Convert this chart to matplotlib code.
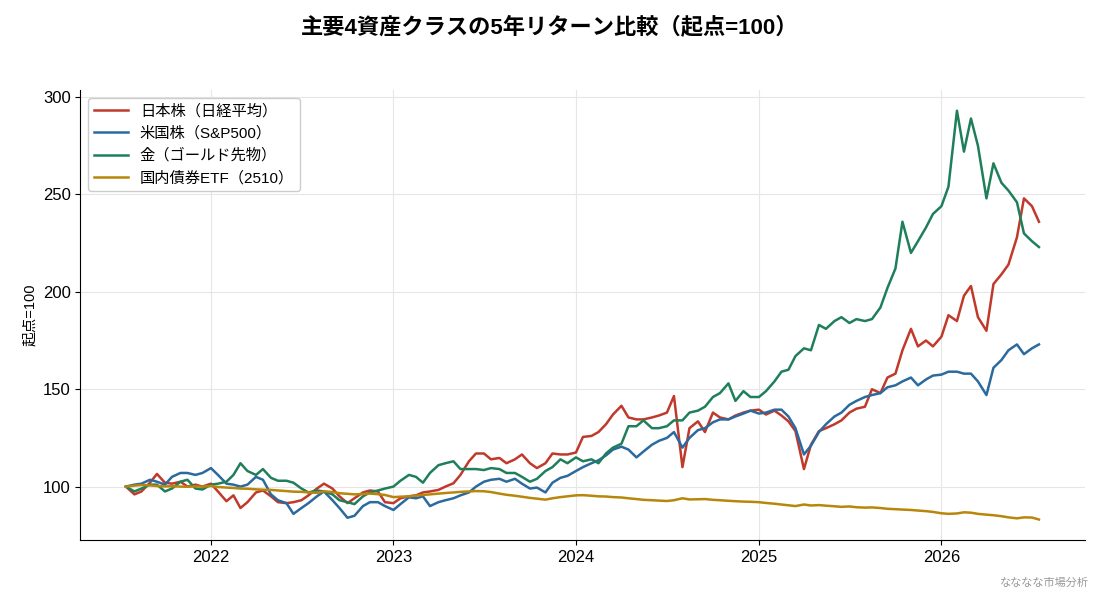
import pandas as pd
import matplotlib
matplotlib.use("Agg")
import matplotlib.pyplot as plt
import matplotlib.dates as mdates

plt.rcParams['font.family'] = ['Liberation Sans', 'Noto Sans CJK JP', 'DejaVu Sans']

# 半月ごとの読み取り値（2021-07-15 〜 2026-07-15）
dates = pd.date_range("2021-07-15", periods=121, freq="SMS")

nikkei = [100, 96, 97.5, 102, 106.5, 102, 101.5, 102.5, 100, 101, 100,
          101.5, 97.5, 92.5, 95.5, 89, 92, 97, 98, 95, 92,
          91.5, 92, 93, 95.5, 99, 101.5, 99, 95, 91.5, 94,
          97, 98, 97.5, 92, 91.5, 94, 95, 95.5, 97, 97.5,
          98.3, 100, 101.7, 106, 113, 117, 117, 114, 114.7, 112,
          114, 116.5, 112, 109.5, 112, 117, 116.5, 116.5, 117.5, 125.5,
          126, 128, 132, 137, 141.5, 135.5, 134.5, 134.5, 135.5, 136.5,
          138, 146.5, 110, 130, 133.5, 128, 138, 135.5, 134.5, 136.5,
          138, 139, 139.5, 137, 139, 136.5, 133.5, 128.5, 109, 121.5,
          128.5, 130, 132, 134, 138, 140, 141, 150, 148, 156,
          158, 170, 181, 172, 175, 172, 177, 188, 185, 198,
          203, 187, 180, 204, 209, 214, 228, 248, 244, 236]

sp500 = [100, 101, 101.5, 103.5, 102.5, 101, 105, 107, 107, 106, 107,
         109.5, 106, 101.5, 101, 100, 101, 105, 103.5, 96, 93,
         91.5, 86, 89, 91.5, 95, 97.5, 93, 89, 84, 85,
         90, 92, 92, 90, 88, 91, 94.5, 94, 95, 90,
         92, 93, 94, 95.5, 97, 100, 102.5, 103.5, 104, 102.5,
         104, 101.5, 99, 99.5, 97, 102, 104.5, 105.5, 108, 110,
         112, 113.5, 116, 119, 120.5, 119, 115, 118, 121.5, 123.5,
         125, 128, 120, 125, 129, 130, 133, 134.5, 134.5, 136,
         137.5, 139, 137.5, 138, 139.5, 139.5, 136, 130, 116.5, 121,
         128, 132, 136, 138, 142, 144, 146, 147, 148, 151,
         152, 154, 156, 152, 155, 157, 157.5, 159, 159, 158,
         158, 154, 147, 161, 165, 170, 173, 168, 171, 173]

gold = [100, 97.5, 99, 101, 101, 97.5, 99, 102.5, 103.5, 99, 98.5,
        101, 101.5, 102.5, 106, 112, 108, 106, 109, 104.5, 103,
        103, 102, 99, 97, 98, 97.5, 96, 93, 92, 91,
        95, 97, 98, 99, 100, 103, 106, 105, 102, 107,
        111, 112, 113, 109, 109, 109, 108.5, 109.5, 109, 107,
        107, 105, 102.5, 104, 108, 110, 114, 112, 115, 113,
        114, 112, 117, 120, 122, 131, 131, 134, 130, 130,
        131, 134, 134, 138, 139, 141, 146, 148, 153, 144,
        149, 146, 146, 149, 154, 159, 160, 167, 171, 170,
        183, 181, 185, 187, 184, 186, 185, 186, 192, 202,
        212, 236, 220, 226, 233, 240, 244, 254, 293, 272,
        289, 275, 248, 266, 256, 252, 246, 230, 226, 223]

bond = [100, 100.5, 100.8, 100.6, 100.3, 100.1, 100.2, 100.0, 99.9, 100.1, 100.0,
        100.3, 99.8, 99.5, 99.3, 99.0, 98.9, 98.6, 98.4, 98.3, 98.0,
        97.7, 97.4, 97.3, 97.0, 96.8, 97.6, 97.2, 96.6, 96.3, 96.0,
        96.2, 96.4, 96.1, 95.7, 94.6, 94.8, 95.0, 95.4, 95.7, 96.0,
        96.4, 96.7, 97.0, 97.3, 97.5, 97.7, 97.6, 97.2, 96.4, 95.8,
        95.3, 94.8, 94.2, 93.8, 93.3, 94.0, 94.6, 95.0, 95.5, 95.6,
        95.3, 95.0, 94.9, 94.6, 94.4, 94.0, 93.6, 93.2, 93.0, 92.8,
        92.6, 93.0, 94.0, 93.4, 93.5, 93.6, 93.2, 93.0, 92.7, 92.5,
        92.3, 92.2, 92.0, 91.6, 91.2, 90.8, 90.4, 90.0, 90.8, 90.3,
        90.5, 90.2, 89.9, 89.6, 89.8, 89.4, 89.2, 89.3, 89.0, 88.6,
        88.4, 88.2, 88.0, 87.7, 87.4, 87.0, 86.3, 86.0, 86.2, 86.8,
        86.6, 86.0, 85.6, 85.3, 84.8, 84.2, 83.7, 84.2, 84.1, 83.1]

labels = ["日本株（日経平均）", "米国株（S&P500）", "金（ゴールド先物）", "国内債券ETF（2510）"]
colors = ["#c0392b", "#2b6a9e", "#1f7f5b", "#b8860b"]

fig = plt.figure(figsize=(11, 5.94), dpi=100)
ax = fig.add_axes([0.073, 0.091, 0.913, 0.757])

for series, lab, col in zip([nikkei, sp500, gold, bond], labels, colors):
    ax.plot(dates, series, color=col, lw=1.8, label=lab)

ax.xaxis.set_major_locator(mdates.YearLocator())
ax.xaxis.set_major_formatter(mdates.DateFormatter("%Y"))
ax.set_yticks([100, 150, 200, 250, 300])
ax.tick_params(labelsize=12)
ax.set_ylabel("起点=100", fontsize=10.5)
ax.grid(True, color="#e6e6e6", lw=0.8)
ax.set_axisbelow(True)
for s in ["top", "right"]:
    ax.spines[s].set_visible(False)

ax.legend(loc="upper left", fontsize=11, frameon=True, edgecolor="#cccccc",
          framealpha=1, handlelength=2.2, borderaxespad=0.5)

fig.suptitle("主要4資産クラスの5年リターン比較（起点=100）", fontsize=16,
             fontweight="bold", y=0.955, va="center")
fig.text(0.99, 0.013, "なななな市場分析", fontsize=8, color="#999999", ha="right")

fig.savefig("out.png", dpi=100)
